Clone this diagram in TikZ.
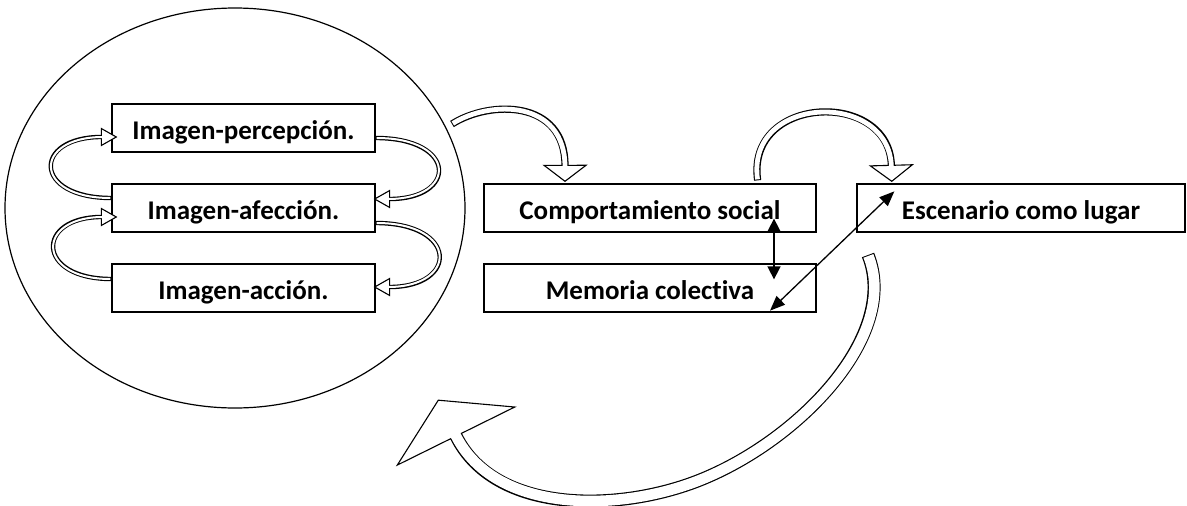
\documentclass[tikz,border=0pt]{standalone}
\usepackage{fontspec}
\setmainfont{Carlito}[Ligatures=NoCommon]
\usetikzlibrary{arrows.meta,decorations.markings,calc}

% Outlined block arrow: #1 shaft width, #2 hollow width, #3 head length,
% #4 head width, #5 path (ending where the head's base sits)
\newcommand\hollowarrow[5]{%
  \draw[line width=#1] #5;
  \path[decorate,decoration={markings,mark=at position -0.05pt with
    {\draw[fill=white,line width=1.1pt,line join=miter]
      (0,0.5*#4) -- (#3,0) -- (0,-0.5*#4) -- cycle;}}] #5;
  \draw[white,line width=#2,shorten <=1pt,shorten >=-1.5pt] #5;
}

\begin{document}
\begin{tikzpicture}[x=1pt,y=-1pt,
  box/.style={draw,line width=1.3pt,minimum height=48pt,inner sep=0pt,
    font=\bfseries\fontsize{27}{31}\selectfont,text height=23.5pt,text depth=0pt},
  dart/.style={{Triangle[length=13pt,width=13pt]}-{Triangle[length=13pt,width=13pt]}}]
\useasboundingbox (0,0) rectangle (1187,506);

% the image cycle
\draw[line width=1.2pt] (235,208) ellipse [x radius=230, y radius=200];
\node[box,minimum width=263pt] (b1) at (243.5,128) {Imagen-percepción.};
\node[box,minimum width=263pt] (b2) at (243.5,208) {Imagen-afección.};
\node[box,minimum width=263pt] (b3) at (243.5,288) {Imagen-acción.};

\hollowarrow{4.4pt}{2pt}{15}{17}{($(b2.west)+(0,-10)$) .. controls +(-79,0) and +(-69,0) .. ($(b1.west)+(-10,9)$)}
\hollowarrow{4.4pt}{2pt}{15}{17}{($(b3.west)+(0,-9)$) .. controls +(-76,0) and +(-66,0) .. ($(b2.west)+(-10,9)$)}
\hollowarrow{4.4pt}{2pt}{15}{17}{($(b1.east)+(0,10)$) .. controls +(82,0) and +(68,0) .. ($(b2.east)+(14,-9)$)}
\hollowarrow{4.4pt}{2pt}{15}{17}{($(b2.east)+(0,15)$) .. controls +(83,0) and +(69,0) .. ($(b3.east)+(14,-1)$)}

% social side
\node[box,minimum width=332pt] (cs) at (650,208) {Comportamiento social};
\node[box,minimum width=332pt] (mc) at (650,288) {Memoria colectiva};
\node[box,minimum width=328pt] (el) at (1021,208) {Escenario como lugar};

\coordinate (out) at (452,124);
\hollowarrow{7.2pt}{4.8pt}{16}{42}{(out) .. controls +(38,-24) and +(0,-66) .. ($(cs.north)+(-85,-18)$)}
\hollowarrow{7.2pt}{4.8pt}{16}{42}{($(cs.north east)+(-59,-3)$) .. controls +(-12,-86) and +(-2,-76) .. ($(el.north west)+(35,-18)$)}

% return arrow back to the image cycle
\coordinate (back) at (868,255);
\coordinate (home) at (456,436);
\hollowarrow{13pt}{10.6pt}{40}{131}{(back) .. controls (900,335) and (800,440) .. (700,480)
  .. controls (620,512) and (495,515) .. (home)}

% links between the boxes
\coordinate (csin) at ($(cs.south)+(124,-14)$);
\coordinate (mcin) at ($(mc.north)+(124,16)$);
\draw[dart,line width=1.6pt] (csin) -- (mcin);
\coordinate (mclo) at ($(mc.south)+(120,-2)$);
\coordinate (elhi) at ($(el.north west)+(38,8)$);
\draw[{Triangle[length=15pt,width=12pt]}-{Triangle[length=15pt,width=12pt]},line width=1.3pt] (mclo) -- (elhi);
\end{tikzpicture}
\end{document}
